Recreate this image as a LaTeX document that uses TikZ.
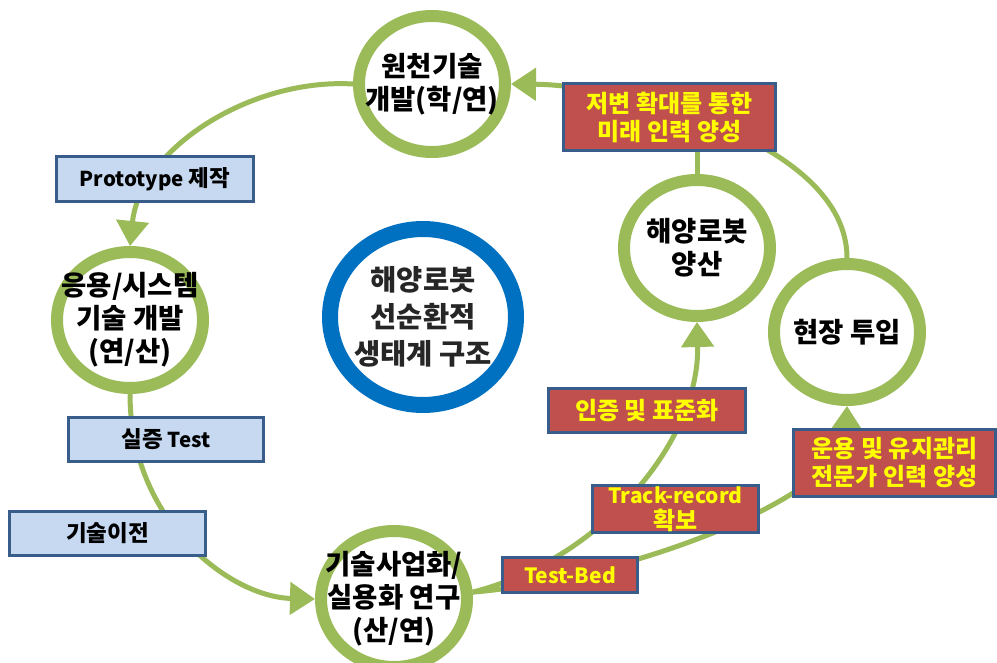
\documentclass[tikz,border=0pt]{standalone}
\usepackage{fontspec}
\setmainfont{Noto Sans CJK KR}
\usetikzlibrary{shapes.geometric,arrows.meta,calc}
\definecolor{ringgreen}{HTML}{9BBB59}
\definecolor{ringblue}{HTML}{0070C0}
\definecolor{lightbluefill}{HTML}{C6D9F1}
\definecolor{boxborder}{HTML}{385D8A}
\definecolor{redfill}{HTML}{C0504D}
\definecolor{yellowtext}{HTML}{FFFF00}
\newcommand{\latsmall}[1]{{\fontsize{20.5}{24}\selectfont #1}}
\tikzset{
  ring/.style={ellipse, draw=ringgreen, fill=white, line width=12pt, minimum width=146pt, minimum height=136pt, inner sep=-28pt, align=center, font=\fontsize{27.5}{33}\selectfont\bfseries},
  bluering/.style={ellipse, draw=ringblue, fill=white, line width=16pt, minimum width=186pt, minimum height=176pt, inner sep=-25pt, align=center, text=black!85, font=\fontsize{28.5}{37}\selectfont\bfseries},
  bluebox/.style={rectangle, draw=boxborder, fill=lightbluefill, line width=3pt, inner sep=0pt, align=center, font=\fontsize{22.5}{26}\selectfont\bfseries},
  redbox/.style={rectangle, draw=boxborder, fill=redfill, line width=3pt, inner sep=0pt, align=center, text=yellowtext, font=\fontsize{24}{28}\selectfont\bfseries},
  conn/.style={draw=ringgreen, line width=5pt},
  arr/.style={conn, -{Triangle[length=25pt,width=32pt]}, ringgreen},
}
\begin{document}
\begin{tikzpicture}[x=1pt,y=-1pt]
\useasboundingbox[fill=white] (0,0) rectangle (997,663);
% circles
\node[ring] (c1) at (432,84) {원천기술\\개발(학/연)};
\node[ring] (c2) at (130,320) {응용/시스템\\기술 개발\\(연/산)};
\node[bluering] (c0) at (423,317) {해양로봇\\선순환적\\생태계 구조};
\node[ring] (c4) at (394,599) {기술사업화/\\실용화 연구\\(산/연)};
\node[ring] (c5) at (697,248) {해양로봇\\양산};
\node[ring] (c6) at (847,332) {현장 투입};
% connectors
\draw[arr] (c1.west) .. controls +(-103,-6) and +(10,-97) .. (c2.north);
\draw[arr] (c2.south) .. controls +(0,127) and +(-85,-2) .. (c4.west);
\draw[arr] (c4.5) .. controls +(127,-32) and +(3,120) .. (c5.south);
\draw[arr] (c4.5) .. controls +(147,-12) and +(-2,93) .. (c6.south);
\draw[arr] (c6.north) .. controls +(0,-117) and +(109,1) .. (c1.east);
\draw[conn] (c5.north) -- (c5.north |- 0,117);
% boxes
\node[bluebox, minimum width=197pt, minimum height=45pt] (b1) at (155,179) {\latsmall{Prototype} 제작};
\node[bluebox, minimum width=195pt, minimum height=44pt] (b2) at (166,439.5) {실증 \latsmall{Test}};
\node[bluebox, minimum width=196pt, minimum height=44pt] (b3) at (107.5,533.5) {기술이전};
\node[redbox, minimum width=212pt, minimum height=67pt] (r1) at (669.5,117) {저변 확대를 통한\\미래 인력 양성};
\node[redbox, minimum width=197pt, minimum height=44pt] (r2) at (647,410.5) {인증 및 표준화};
\node[redbox, minimum width=166pt, minimum height=47pt, font=\fontsize{21}{26}\selectfont\bfseries] (r3) at (675.5,509) {Track-record\\{\fontsize{24}{26}\selectfont 확보}};
\node[redbox, minimum width=135pt, minimum height=35pt, font=\fontsize{21}{24}\selectfont\bfseries] (r4) at (570,575) {Test-Bed};
\node[redbox, minimum width=202pt, minimum height=67pt] (r5) at (894.5,463) {운용 및 유지관리\\전문가 인력 양성};
\end{tikzpicture}
\end{document}
